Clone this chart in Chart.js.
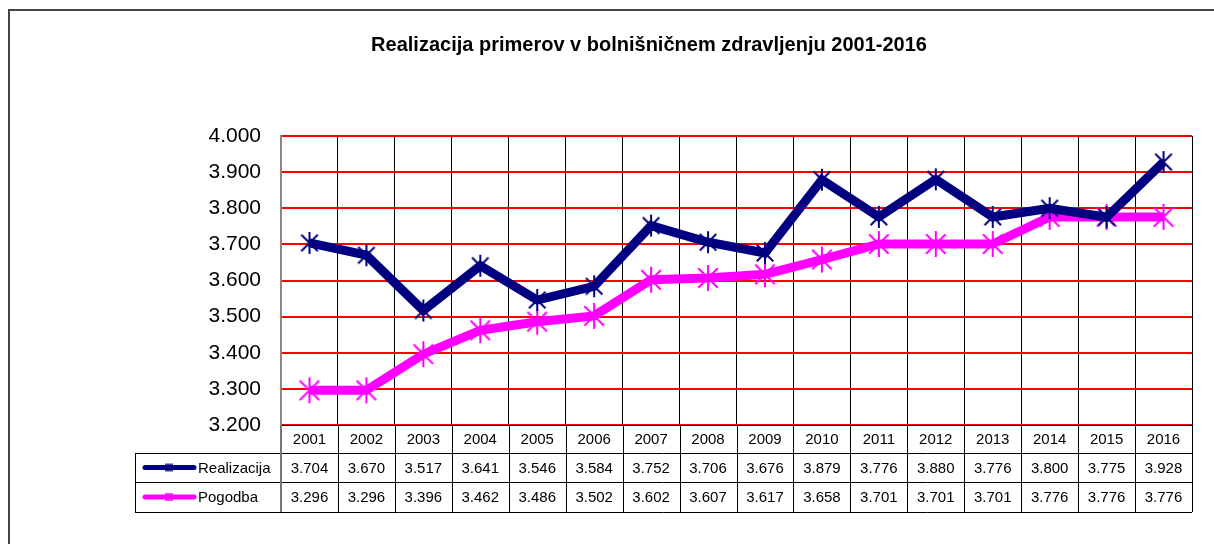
<!DOCTYPE html>
<html>
<head>
<meta charset="utf-8">
<script src="https://cdn.jsdelivr.net/npm/chart.js@4/dist/chart.umd.min.js"></script>
<style>
  body { margin: 0; background: #fff; }
  canvas { display: block; }
</style>
</head>
<body>
<canvas id="graf" width="1214" height="544"></canvas>
<script>
// podatki
var leta = ['2001','2002','2003','2004','2005','2006','2007','2008','2009','2010','2011','2012','2013','2014','2015','2016'];
var realizacija = [3.704, 3.670, 3.517, 3.641, 3.546, 3.584, 3.752, 3.706, 3.676, 3.879, 3.776, 3.880, 3.776, 3.800, 3.775, 3.928];
var pogodba = [3.296, 3.296, 3.396, 3.462, 3.486, 3.502, 3.602, 3.607, 3.617, 3.658, 3.701, 3.701, 3.701, 3.776, 3.776, 3.776];
var naslov = 'Realizacija primerov v bolnišničnem zdravljenju 2001-2016';

var font = '"Liberation Sans", Arial, sans-serif';

function fmt(v) {
  return v.toFixed(3);
}

// zvezdica kot marker
function zvezda(barva, r, lw) {
  var c = document.createElement('canvas');
  c.width = c.height = r * 2 + 4;
  var g = c.getContext('2d');
  var m = r + 2;
  g.strokeStyle = barva;
  g.lineWidth = lw;
  g.beginPath();
  g.moveTo(m, m - r); g.lineTo(m, m + r);
  var d = r * 0.75;
  g.moveTo(m - d, m - d); g.lineTo(m + d, m + d);
  g.moveTo(m + d, m - d); g.lineTo(m - d, m + d);
  g.stroke();
  return c;
}

var tabela = {
  id: 'tabela',
  beforeDraw: function(chart) {
    var ctx = chart.ctx;
    ctx.save();
    ctx.fillStyle = '#fff';
    ctx.fillRect(0, 0, chart.width, chart.height);
    ctx.strokeStyle = '#444';
    ctx.lineWidth = 2;
    ctx.beginPath();
    ctx.moveTo(9, chart.height);
    ctx.lineTo(9, 10);
    ctx.lineTo(chart.width, 10);
    ctx.stroke();
    ctx.restore();
  },
  afterDraw: function(chart) {
    var ctx = chart.ctx;
    var x = chart.scales.x;
    var a = chart.chartArea;
    var w = (a.right - a.left) / leta.length;
    var y0 = a.bottom, y1 = y0 + 28, y2 = y1 + 29, y3 = y2 + 30;
    var lx = 135;
    ctx.save();
    ctx.strokeStyle = '#000';
    ctx.lineWidth = 1;
    ctx.beginPath();
    ctx.moveTo(a.left, y0 + 0.5); ctx.lineTo(a.right, y0 + 0.5);
    ctx.moveTo(lx, y1 + 0.5); ctx.lineTo(a.right, y1 + 0.5);
    ctx.moveTo(lx, y2 + 0.5); ctx.lineTo(a.right, y2 + 0.5);
    ctx.moveTo(lx, y3 + 0.5); ctx.lineTo(a.right, y3 + 0.5);
    ctx.moveTo(lx + 0.5, y1); ctx.lineTo(lx + 0.5, y3);
    for (var i = 1; i <= leta.length; i++) {
      var gx = Math.round(a.left + i * w) + 0.5;
      ctx.moveTo(gx, y0); ctx.lineTo(gx, y3);
    }
    ctx.stroke();
    ctx.strokeStyle = '#777';
    ctx.lineWidth = 2;
    ctx.beginPath();
    ctx.moveTo(a.left, y0); ctx.lineTo(a.left, y3);
    ctx.stroke();

    ctx.fillStyle = '#000';
    ctx.font = '15px ' + font;
    ctx.textAlign = 'center';
    ctx.textBaseline = 'middle';
    for (var j = 0; j < leta.length; j++) {
      var cx = x.getPixelForValue(j);
      ctx.fillText(leta[j], cx, (y0 + y1) / 2 + 1);
      ctx.fillText(fmt(realizacija[j]), cx, (y1 + y2) / 2 + 1);
      ctx.fillText(fmt(pogodba[j]), cx, (y2 + y3) / 2 + 1);
    }

    // legenda v tabeli
    var vrste = [[chart.data.datasets[0], (y1 + y2) / 2], [chart.data.datasets[1], (y2 + y3) / 2]];
    vrste.forEach(function(v) {
      var ds = v[0], cy = v[1];
      ctx.strokeStyle = ds.borderColor;
      ctx.lineWidth = 5;
      ctx.lineCap = 'round';
      ctx.beginPath();
      ctx.moveTo(145, cy); ctx.lineTo(194, cy);
      ctx.stroke();
      ctx.lineCap = 'butt';
      ctx.lineWidth = 1.5;
      ctx.beginPath();
      for (var k = -3; k <= 3; k += 2) {
        ctx.moveTo(169 + k, cy - 4); ctx.lineTo(169 + k, cy + 4);
      }
      ctx.stroke();
      ctx.fillStyle = '#000';
      ctx.textAlign = 'left';
      ctx.fillText(ds.label, 198, cy + 1);
    });
    ctx.restore();
  }
};

var config = {
  type: 'line',
  data: {
    labels: leta,
    datasets: [
      {
        label: 'Realizacija',
        data: realizacija,
        borderColor: '#000080',
        backgroundColor: '#000080',
        borderWidth: 9,
        tension: 0,
        pointStyle: zvezda('#000080', 11, 2),
        pointRadius: 11
      },
      {
        label: 'Pogodba',
        data: pogodba,
        borderColor: '#ff00ff',
        backgroundColor: '#ff00ff',
        borderWidth: 9,
        tension: 0,
        pointStyle: zvezda('#ff00ff', 13, 2),
        pointRadius: 13
      }
    ]
  },
  options: {
    responsive: false,
    animation: false,
    devicePixelRatio: 1,
    layout: { padding: { left: 106, right: 22, top: 0, bottom: 119 } },
    plugins: {
      legend: { display: false },
      tooltip: { enabled: false },
      title: {
        display: true,
        text: naslov,
        color: '#000',
        font: { family: font, size: 20, weight: 'bold' },
        padding: { top: 33, bottom: 79 }
      }
    },
    scales: {
      x: {
        offset: true,
        grid: { offset: true, color: '#000', lineWidth: 1, drawTicks: false },
        border: { display: false },
        ticks: { display: false },
        afterFit: function(s) { s.height = 0; }
      },
      y: {
        min: 3.2,
        max: 4.0,
        grid: { color: '#ff0000', lineWidth: 2, drawTicks: false },
        border: { color: '#888', width: 2 },
        ticks: {
          stepSize: 0.1,
          padding: 20,
          color: '#000',
          font: { family: font, size: 21 },
          callback: function(v) { return fmt(v); }
        },
        afterFit: function(s) { s.width = 175; }
      }
    }
  },
  plugins: [tabela]
};

var myChart = new Chart(document.getElementById('graf'), config);
</script>
</body>
</html>
